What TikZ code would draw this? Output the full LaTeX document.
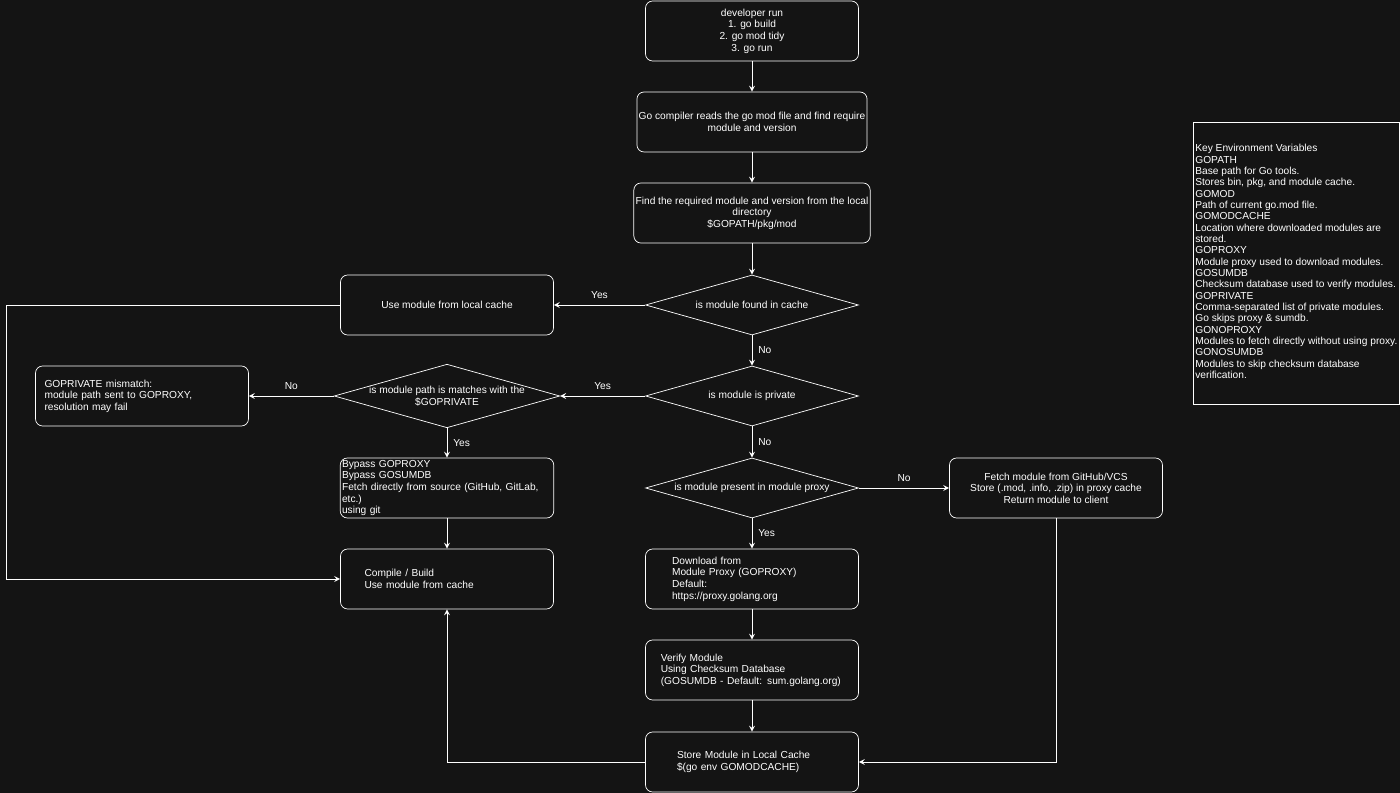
\documentclass[tikz,border=0pt]{standalone}
\usepackage{fontspec}
\setmainfont{Liberation Sans}
\usetikzlibrary{shapes.geometric,positioning,calc}
\definecolor{bg}{HTML}{141414}
\begin{document}
\begin{tikzpicture}[x=0.02cm,y=-0.02cm,
				every node/.style={text=white,font=\fontsize{5.8}{6.6}\selectfont},
				box/.style={draw=white,rounded corners=4pt,minimum width=4.26cm,minimum height=1.2cm,align=center,inner sep=1pt},
				lbox/.style={box,align=left},
				dec/.style={draw=white,diamond,aspect=3.55,minimum width=4.26cm,minimum height=1.2cm,inner sep=0pt,align=center},
				lbl/.style={font=\fontsize{5.8}{6.6}\selectfont},
				line/.style={draw=white,line width=0.5pt},
				arr/.style={line,-stealth}]
				\fill[bg] (0,0) rectangle (1400,793);
				\useasboundingbox (0,0) rectangle (1400,793);
				\node[box]  (dev)      at (752,31)  {developer run\\1. go build\\2. go mod tidy\\3. go run};
				\node[box]  (read)     at (752,122) {Go compiler reads the go mod file and find require\\module and version};
				\node[box]  (find)     at (752,213) {Find the required module and version from the local\\directory\\\$GOPATH/pkg/mod};
				\node[dec]  (cache)    at (752,305) {is module found in cache};
				\node[box]  (local)    at (447,305) {Use module from local cache};
				\node[dec]  (private)  at (752,396) {is module is private};
				\node[dec]  (match)    at (447,396) {is module path is matches with the\\\$GOPRIVATE};
				\node[box,text width=3.9cm,align=left] (mismatch) at (142,396) {GOPRIVATE mismatch:\\module path sent to GOPROXY,\\resolution may fail};
				\node[box,text width=4.2cm,align=left] (bypass) at (447,488) {Bypass GOPROXY\\Bypass GOSUMDB\\Fetch directly from source (GitHub, GitLab, etc.)\\using git};
				\node[dec]  (proxy)    at (752,488) {is module present in module proxy};
				\node[box]  (fetch)    at (1056,488) {Fetch module from GitHub/VCS\\Store (.mod, .info, .zip) in proxy cache\\Return module to client};
				\node[box,text width=3.3cm,align=left] (compile) at (447,579) {Compile / Build\\Use module from cache};
				\node[box,text width=3.2cm,align=left] (download) at (752,579) {Download from\\Module Proxy (GOPROXY)\\Default:\\https://proxy.golang.org};
				\node[box,text width=3.65cm,align=left] (verify) at (752,670) {Verify Module\\Using Checksum Database\\(GOSUMDB - Default: sum.golang.org)};
				\node[box,text width=3.0cm,align=left] (store) at (752,762) {Store Module in Local Cache\\\$(go env GOMODCACHE)};
				\node[draw=white,minimum width=4.12cm,minimum height=5.64cm,inner sep=0pt] (key) at (1296,263) {};
				\node[anchor=north west,align=left,inner sep=0pt,font=\fontsize{5.8}{6.45}\selectfont] (keytext) at (1195,144)
					{Key Environment Variables\\GOPATH\\Base path for Go tools.\\Stores bin, pkg, and module cache.\\GOMOD\\Path of current go.mod file.\\GOMODCACHE\\Location where downloaded modules are\\stored.\\GOPROXY\\Module proxy used to download modules.\\GOSUMDB\\Checksum database used to verify modules.\\GOPRIVATE\\Comma-separated list of private modules.\\Go skips proxy \& sumdb.\\GONOPROXY\\Modules to fetch directly without using proxy.\\GONOSUMDB\\Modules to skip checksum database\\verification.};
				\coordinate (c1) at (6,305);
				\coordinate (c2) at (6,579);
				\coordinate (c3) at (447,762);
				\coordinate (c4) at (1056,762);
				
				\draw[arr] (dev) -- (read);
				\draw[arr] (read) -- (find);
				\draw[arr] (find) -- (cache);
				\draw[arr] (cache) -- node[above,pos=0.5] {Yes} (local);
				\draw[arr] (cache) -- node[right,pos=0.5] {No} (private);
				\draw[arr] (private) -- node[above] {Yes} (match);
				\draw[arr] (match) -- node[above] {No} (mismatch);
				\draw[arr] (match) -- node[right] {Yes} (bypass);
				\draw[arr] (private) -- node[right] {No} (proxy);
				\draw[arr] (proxy) -- node[above] {No} (fetch);
				\draw[arr] (proxy) -- node[right] {Yes} (download);
				\draw[arr] (bypass) -- (compile);
				\draw[arr] (download) -- (verify);
				\draw[arr] (verify) -- (store);
				\draw[arr] (store.west) -- (c3) -- (compile.south);
				\draw[arr] (fetch.south) -- (c4) -- (store.east);
				\draw[arr] (local.west) -- (c1) -- (c2) -- (compile.west);
			\end{tikzpicture}
\end{document}
